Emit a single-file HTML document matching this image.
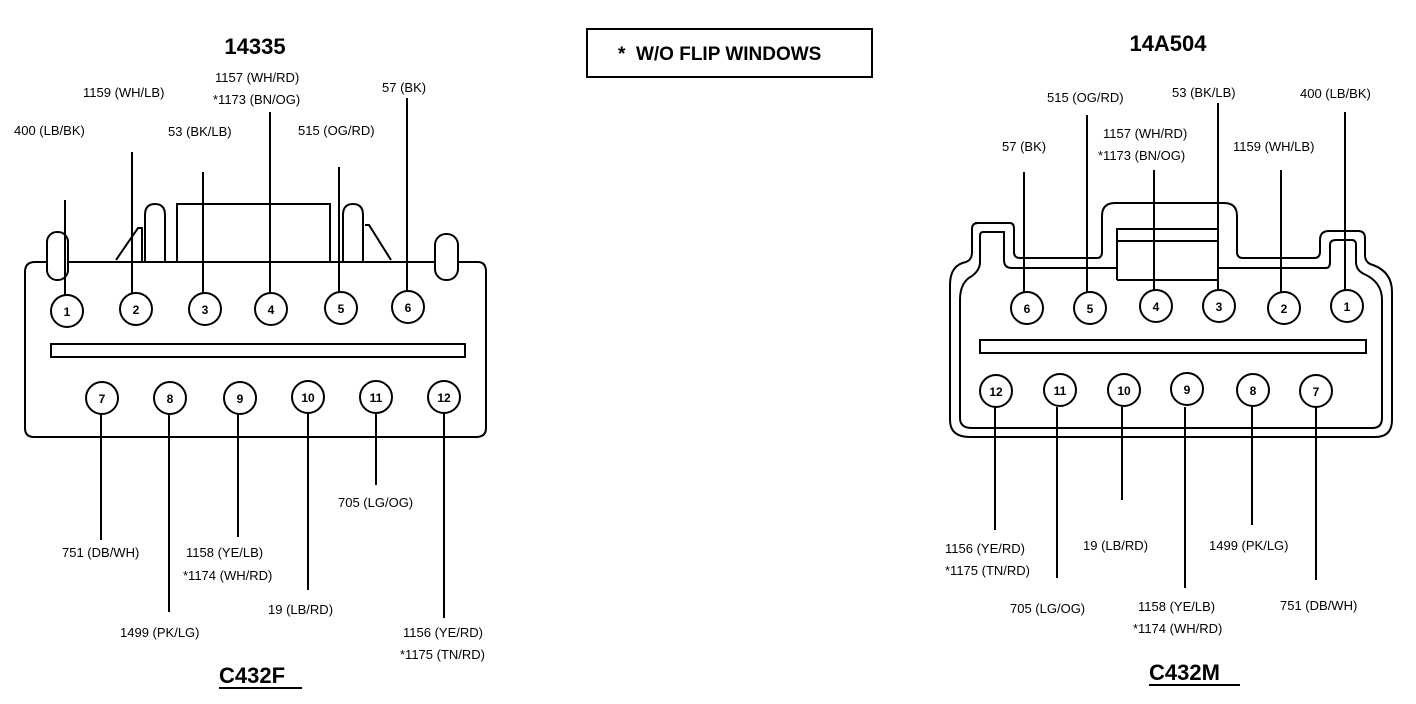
<!DOCTYPE html>
<html><head><meta charset="utf-8"><style>
html,body{margin:0;padding:0;background:#fff;}
svg{display:block;}
text{font-family:"Liberation Sans",Arial,sans-serif;fill:#000;}
.l{font-size:13px;}
.n{font-size:12px;font-weight:bold;}
</style></head><body>
<svg width="1416" height="704" viewBox="0 0 1416 704" xmlns="http://www.w3.org/2000/svg">
<g fill="none" stroke="#000" stroke-width="2">
<path d="M60 262 H190 M330 262 H478 Q486 262 486 272 V428 Q486 437 476 437 H34 Q25 437 25 428 V272 Q25 262 35 262 H50"/>
<rect x="177" y="204" width="153" height="58"/>
<rect x="47" y="232" width="21" height="48" rx="10" fill="#fff"/>
<rect x="435" y="234" width="23" height="46" rx="11" fill="#fff"/>
<path d="M145 262 V215 Q145 204 155 204 Q165 204 165 215 V262"/>
<path d="M343 262 V215 Q343 204 353 204 Q363 204 363 215 V262"/>
<path d="M116 260 L138 228 L142 228 V262"/>
<path d="M365 225 L369 225 L391 260"/>
<rect x="51" y="344" width="414" height="13"/>
<path d="M65 200 V300 M132 152 V294 M203 172 V294 M270 112 V294 M339 167 V294 M407 98 V294"/>
<path d="M101 413 V540 M169 413 V612 M238 413 V537 M308 413 V590 M376 413 V485 M444 413 V618"/>
<path d="M975 223 H1010 Q1014 223 1014 229 V252 Q1014 258 1020 258 H1097 Q1102 258 1102 252 V216 Q1102 203 1115 203 H1224 Q1237 203 1237 216 V252 Q1237 258 1243 258 H1314 Q1320 258 1320 252 V240 Q1320 231 1329 231 H1358 Q1365 231 1365 238 V255 Q1365 263 1373 265 Q1392 272 1392 292 V420 Q1392 437 1375 437 H970 Q950 437 950 420 V285 Q950 265 966 262 Q972 260 972 252 V229 Q972 223 978 223 Z"/>
<path d="M983 232 H1004 V260 Q1004 268 1012 268 H1117 M1218 268 H1326 Q1330 268 1330 262 V245 Q1330 240 1336 240 H1352 Q1356 240 1356 245 V262 Q1356 270 1364 274 Q1382 282 1382 300 V418 Q1382 428 1372 428 H972 Q960 428 960 418 V300 Q960 282 972 276 Q980 270 980 262 V236 Q980 232 983 232"/>
<path d="M1117 280 V229 H1218 V280 H1117 M1117 241 H1218"/>
<rect x="980" y="340" width="386" height="13"/>
<path d="M1024 172 V294 M1087 115 V294 M1154 170 V294 M1218 103 V294 M1281 170 V294 M1345 112 V294"/>
<path d="M995 407 V530 M1057 407 V578 M1122 407 V500 M1185 407 V588 M1252 407 V525 M1316 407 V580"/>
<rect x="587" y="29" width="285" height="48"/>
</g>
<g stroke="#000" stroke-width="2" fill="#fff">
<circle cx="67" cy="311" r="16"/><circle cx="136" cy="309" r="16"/><circle cx="205" cy="309" r="16"/><circle cx="271" cy="309" r="16"/><circle cx="341" cy="308" r="16"/><circle cx="408" cy="307" r="16"/>
<circle cx="102" cy="398" r="16"/><circle cx="170" cy="398" r="16"/><circle cx="240" cy="398" r="16"/><circle cx="308" cy="397" r="16"/><circle cx="376" cy="397" r="16"/><circle cx="444" cy="397" r="16"/>
<circle cx="1027" cy="308" r="16"/><circle cx="1090" cy="308" r="16"/><circle cx="1156" cy="306" r="16"/><circle cx="1219" cy="306" r="16"/><circle cx="1284" cy="308" r="16"/><circle cx="1347" cy="306" r="16"/>
<circle cx="996" cy="391" r="16"/><circle cx="1060" cy="390" r="16"/><circle cx="1124" cy="390" r="16"/><circle cx="1187" cy="389" r="16"/><circle cx="1253" cy="390" r="16"/><circle cx="1316" cy="391" r="16"/>
</g>
<g class="n" text-anchor="middle">
<text class="n" x="67" y="316">1</text><text class="n" x="136" y="314">2</text><text class="n" x="205" y="314">3</text><text class="n" x="271" y="314">4</text><text class="n" x="341" y="313">5</text><text class="n" x="408" y="312">6</text>
<text class="n" x="102" y="403">7</text><text class="n" x="170" y="403">8</text><text class="n" x="240" y="403">9</text><text class="n" x="308" y="402">10</text><text class="n" x="376" y="402">11</text><text class="n" x="444" y="402">12</text>
<text class="n" x="1027" y="313">6</text><text class="n" x="1090" y="313">5</text><text class="n" x="1156" y="311">4</text><text class="n" x="1219" y="311">3</text><text class="n" x="1284" y="313">2</text><text class="n" x="1347" y="311">1</text>
<text class="n" x="996" y="396">12</text><text class="n" x="1060" y="395">11</text><text class="n" x="1124" y="395">10</text><text class="n" x="1187" y="394">9</text><text class="n" x="1253" y="395">8</text><text class="n" x="1316" y="396">7</text>
</g>
<text x="255" y="54" text-anchor="middle" style="font-size:22px;font-weight:bold">14335</text>
<text x="1168" y="51" text-anchor="middle" style="font-size:22px;font-weight:bold">14A504</text>
<text x="618" y="60" style="font-size:19px;font-weight:bold">*&#160;&#160;W/O FLIP WINDOWS</text>
<text x="219" y="683" style="font-size:22px;font-weight:bold">C432F</text>
<line x1="219" y1="688" x2="302" y2="688" stroke="#000" stroke-width="2"/>
<text x="1149" y="680" style="font-size:22px;font-weight:bold">C432M</text>
<line x1="1149" y1="685" x2="1240" y2="685" stroke="#000" stroke-width="2"/>
<g class="l">
<text class="l" x="14" y="135">400 (LB/BK)</text>
<text class="l" x="83" y="97">1159  (WH/LB)</text>
<text class="l" x="215" y="82">1157 (WH/RD)</text>
<text class="l" x="213" y="104">*1173 (BN/OG)</text>
<text class="l" x="168" y="136">53 (BK/LB)</text>
<text class="l" x="298" y="135">515 (OG/RD)</text>
<text class="l" x="382" y="92">57 (BK)</text>
<text class="l" x="62" y="557">751 (DB/WH)</text>
<text class="l" x="186" y="557">1158 (YE/LB)</text>
<text class="l" x="183" y="580">*1174 (WH/RD)</text>
<text class="l" x="268" y="614">19  (LB/RD)</text>
<text class="l" x="120" y="637">1499 (PK/LG)</text>
<text class="l" x="338" y="507">705 (LG/OG)</text>
<text class="l" x="403" y="637">1156 (YE/RD)</text>
<text class="l" x="400" y="659">*1175 (TN/RD)</text>
<text class="l" x="1002" y="151">57 (BK)</text>
<text class="l" x="1047" y="102">515 (OG/RD)</text>
<text class="l" x="1172" y="97">53 (BK/LB)</text>
<text class="l" x="1300" y="98">400 (LB/BK)</text>
<text class="l" x="1103" y="138">1157 (WH/RD)</text>
<text class="l" x="1098" y="160">*1173 (BN/OG)</text>
<text class="l" x="1233" y="151">1159 (WH/LB)</text>
<text class="l" x="945" y="553">1156 (YE/RD)</text>
<text class="l" x="945" y="575">*1175 (TN/RD)</text>
<text class="l" x="1010" y="613">705 (LG/OG)</text>
<text class="l" x="1083" y="550">19 (LB/RD)</text>
<text class="l" x="1138" y="611">1158 (YE/LB)</text>
<text class="l" x="1133" y="633">*1174 (WH/RD)</text>
<text class="l" x="1209" y="550">1499 (PK/LG)</text>
<text class="l" x="1280" y="610">751 (DB/WH)</text>
</g>
</svg>
</body></html>
